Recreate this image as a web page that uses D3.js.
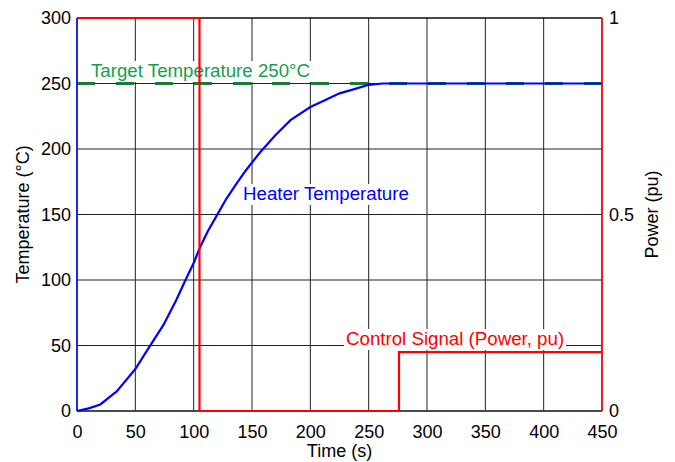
<!DOCTYPE html>
<html>
<head>
<meta charset="utf-8">
<script src="https://cdn.jsdelivr.net/npm/d3@7"></script>
<style>
  body { margin: 0; background: #fff; }
  text { font-family: Arial, "Liberation Sans", sans-serif; }
</style>
</head>
<body>
<svg id="chart"></svg>
<script>
// time (s) and heater temperature (°C)
let timeS   = [0, 10, 20, 34, 50, 62, 74, 85, 93, 100, 105, 112, 120, 128, 137, 145, 157, 170, 183, 200, 212, 225, 237, 250, 262, 450];
let heaterT = [0, 2, 5, 15, 32, 49, 65.5, 84.5, 100, 113, 124, 137, 149.5, 162, 174, 184, 197.5, 210.5, 222, 232, 237, 242.5, 245.5, 249, 250, 250];

// control signal steps (power, pu)
let stepTime  = [0, 105, 276, 450];
let stepPower = [1, 0, 0.15, 0.15];

let targetTemp = 250;
let xTicks = [0, 50, 100, 150, 200, 250, 300, 350, 400, 450];
let yTicks = [0, 50, 100, 150, 200, 250, 300];
let pTicks = [0, 0.5, 1];

let w = 675, h = 462;
let m = {top: 18, right: 73, bottom: 51, left: 77};

let svg = d3.select('#chart')
    .attr('width', w)
    .attr('height', h);

let xScale = d3.scaleLinear().domain([0, 450]).range([m.left, w - m.right]);
let yScale = d3.scaleLinear().domain([0, 300]).range([h - m.bottom, m.top]);
let pScale = d3.scaleLinear().domain([0, 1]).range([h - m.bottom, m.top]);

//grid
svg.append('g')
    .selectAll('line')
    .data(xTicks)
    .enter()
    .append('line')
    .attr('x1', d => xScale(d)).attr('x2', d => xScale(d))
    .attr('y1', m.top).attr('y2', h - m.bottom)
    .attr('stroke', '#222').attr('stroke-width', 1);

svg.append('g')
    .selectAll('line')
    .data(yTicks)
    .enter()
    .append('line')
    .attr('x1', m.left).attr('x2', w - m.right)
    .attr('y1', d => yScale(d)).attr('y2', d => yScale(d))
    .attr('stroke', '#222').attr('stroke-width', 1);

//axes
let xAxis = svg.append('g')
    .attr('transform', 'translate(0,' + (h - m.bottom) + ')')
    .call(d3.axisBottom(xScale).tickValues(xTicks).tickSize(0).tickPadding(14));

let yAxis = svg.append('g')
    .attr('transform', 'translate(' + m.left + ',0)')
    .call(d3.axisLeft(yScale).tickValues(yTicks).tickSize(0).tickPadding(6));

let pAxis = svg.append('g')
    .attr('transform', 'translate(' + (w - m.right) + ',0)')
    .call(d3.axisRight(pScale).tickValues(pTicks).tickSize(0).tickPadding(7).tickFormat(d3.format('')));

[xAxis, yAxis, pAxis].forEach(a => {
    a.selectAll('text').style('font-size', '18px').attr('fill', '#000');
    a.select('.domain').remove();
});

// frame lines
svg.append('line')
    .attr('x1', m.left).attr('x2', w - m.right)
    .attr('y1', m.top).attr('y2', m.top)
    .attr('stroke', '#000').attr('stroke-width', 1.2);
svg.append('line')
    .attr('x1', m.left).attr('x2', w - m.right)
    .attr('y1', h - m.bottom).attr('y2', h - m.bottom)
    .attr('stroke', '#333').attr('stroke-width', 1.5);

// labels with white boxes
function boxLabel(x, y, str, color) {
    let g = svg.append('g');
    let rect = g.append('rect').attr('fill', '#fff');
    let t = g.append('text')
        .attr('x', x).attr('y', y)
        .style('font-size', '18.7px')
        .attr('fill', color)
        .text(str);
    let b = t.node().getBBox();
    rect.attr('x', b.x - 2).attr('y', b.y + 1)
        .attr('width', b.width + 4).attr('height', b.height);
}
boxLabel(91, 77, 'Target Temperature 250\u00b0C', '#14a04a');
boxLabel(243, 200, 'Heater Temperature', '#0000ff');
boxLabel(346, 345, 'Control Signal (Power, pu)', '#ff0000');

// target dashed line
svg.append('line')
    .attr('x1', xScale(0)).attr('x2', xScale(450))
    .attr('y1', yScale(targetTemp)).attr('y2', yScale(targetTemp))
    .attr('stroke', '#1a7a38')
    .attr('stroke-width', 3)
    .attr('stroke-dasharray', '18,21');

// heater temperature
let heatLine = d3.line()
    .x((d, i) => xScale(timeS[i]))
    .y(d => yScale(d));
svg.append('path')
    .attr('d', heatLine(heaterT))
    .attr('fill', 'none')
    .attr('stroke', '#0000ff')
    .attr('stroke-width', 2.2);

// control signal
let stepLine = d3.line()
    .x((d, i) => xScale(stepTime[i]))
    .y(d => pScale(d))
    .curve(d3.curveStepAfter);
svg.append('path')
    .attr('d', stepLine(stepPower))
    .attr('fill', 'none')
    .attr('stroke', '#ff0000')
    .attr('stroke-width', 2.2);

// side axis lines
svg.append('line')
    .attr('x1', m.left).attr('x2', m.left)
    .attr('y1', m.top).attr('y2', h - m.bottom)
    .attr('stroke', '#0000ff').attr('stroke-width', 1.5);
svg.append('line')
    .attr('x1', w - m.right).attr('x2', w - m.right)
    .attr('y1', m.top).attr('y2', h - m.bottom)
    .attr('stroke', '#ff0000').attr('stroke-width', 1.5);

//axis titles
svg.append('text')
    .attr('x', (m.left + w - m.right) / 2)
    .attr('y', 457)
    .style('text-anchor', 'middle')
    .style('font-size', '18px')
    .text('Time (s)');

svg.append('text')
    .attr('transform', 'rotate(-90)')
    .attr('x', -(m.top + h - m.bottom) / 2)
    .attr('y', 29)
    .style('text-anchor', 'middle')
    .style('font-size', '18px')
    .text('Temperature (\u00b0C)');

svg.append('text')
    .attr('transform', 'rotate(-90)')
    .attr('x', -(m.top + h - m.bottom) / 2)
    .attr('y', 658)
    .style('text-anchor', 'middle')
    .style('font-size', '18px')
    .text('Power (pu)');
</script>
</body>
</html>
